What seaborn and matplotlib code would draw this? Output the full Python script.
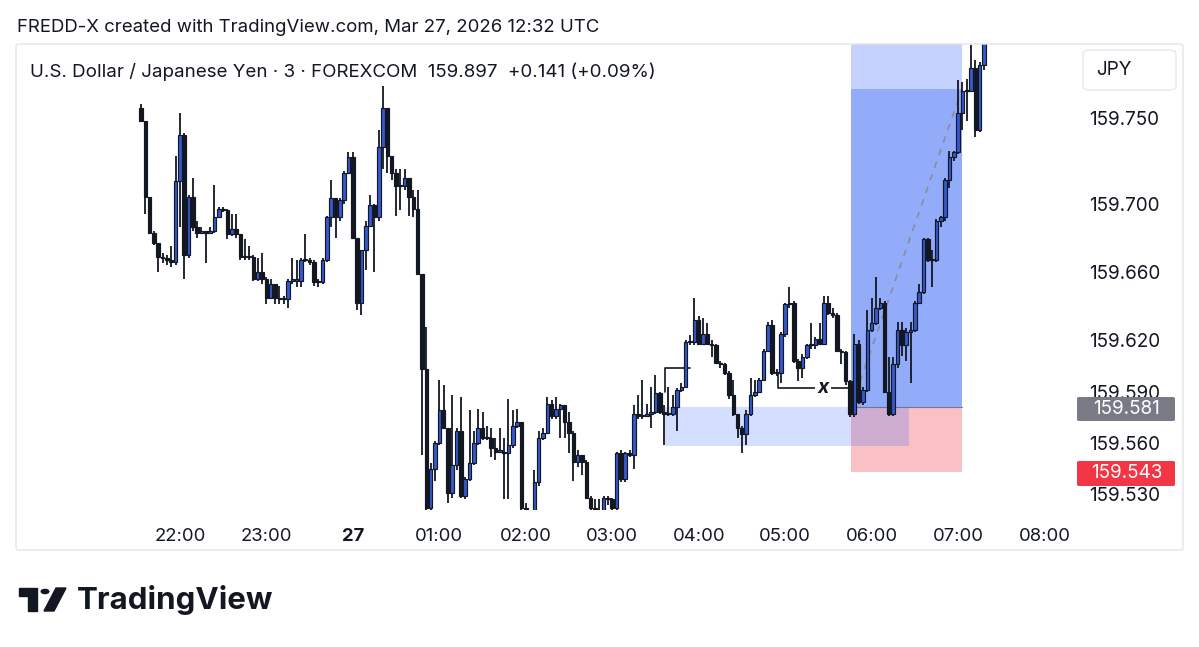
import numpy as np
import pandas as pd
import matplotlib
matplotlib.use("Agg")
import matplotlib.pyplot as plt
import seaborn as sns
from matplotlib.patches import Rectangle, FancyBboxPatch, Polygon, Circle

# USD/JPY 3分足 (21:33 〜 07:18)
first_open = 159.756
closes = [
    159.748, 159.704, 159.683, 159.677, 159.669, 159.668, 159.667, 159.666, 159.713, 159.740,
    159.670, 159.704, 159.686, 159.683, 159.684, 159.683, 159.684, 159.692, 159.697, 159.696,
    159.682, 159.685, 159.682, 159.669, 159.669, 159.669, 159.656, 159.660, 159.656, 159.645,
    159.653, 159.645, 159.644, 159.644, 159.655, 159.655, 159.655, 159.667, 159.667, 159.666,
    159.654, 159.654, 159.667, 159.692, 159.703, 159.692, 159.702, 159.718, 159.727, 159.680,
    159.642, 159.673, 159.687, 159.699, 159.692, 159.733, 159.756, 159.728, 159.718, 159.710,
    159.710, 159.715, 159.704, 159.697, 159.659, 159.603, 159.522, 159.545, 159.560, 159.579,
    159.569, 159.531, 159.547, 159.567, 159.529, 159.539, 159.548, 159.560, 159.569, 159.563,
    159.563, 159.557, 159.555, 159.555, 159.554, 159.559, 159.570, 159.572, 159.522, 159.514,
    159.517, 159.537, 159.563, 159.566, 159.583, 159.576, 159.580, 159.582, 159.572, 159.566,
    159.549, 159.553, 159.549, 159.528, 159.522, 159.517, 159.519, 159.528, 159.527, 159.522,
    159.554, 159.539, 159.554, 159.553, 159.577, 159.576, 159.576, 159.577, 159.578, 159.589,
    159.578, 159.577, 159.577, 159.581, 159.591, 159.593, 159.619, 159.619, 159.632, 159.618,
    159.624, 159.618, 159.617, 159.607, 159.606, 159.601, 159.588, 159.577, 159.569, 159.565,
    159.577, 159.588, 159.590, 159.597, 159.614, 159.629, 159.601, 159.601, 159.624, 159.641,
    159.642, 159.608, 159.604, 159.610, 159.617, 159.617, 159.621, 159.618, 159.642, 159.636,
    159.635, 159.614, 159.613, 159.596, 159.577, 159.618, 159.584, 159.591, 159.626, 159.630,
    159.639, 159.642, 159.590, 159.577, 159.606, 159.626, 159.617, 159.625, 159.626, 159.642,
    159.648, 159.679, 159.667, 159.667, 159.690, 159.692, 159.714, 159.727, 159.730, 159.753,
    159.766, 159.766, 159.779, 159.743, 159.781, 159.800,
]
highs = [
    159.758, 159.748, 159.704, 159.684, 159.677, 159.671, 159.670, 159.675, 159.728, 159.753,
    159.741, 159.705, 159.715, 159.690, 159.686, 159.684, 159.686, 159.711, 159.698, 159.698,
    159.697, 159.694, 159.694, 159.682, 159.679, 159.675, 159.670, 159.668, 159.671, 159.657,
    159.656, 159.653, 159.652, 159.646, 159.656, 159.668, 159.667, 159.668, 159.682, 159.668,
    159.667, 159.656, 159.668, 159.693, 159.714, 159.703, 159.703, 159.719, 159.730, 159.730,
    159.680, 159.673, 159.690, 159.705, 159.700, 159.743, 159.769, 159.756, 159.728, 159.720,
    159.720, 159.720, 159.715, 159.708, 159.708, 159.659, 159.628, 159.548, 159.561, 159.597,
    159.594, 159.569, 159.588, 159.569, 159.587, 159.540, 159.579, 159.567, 159.580, 159.578,
    159.570, 159.569, 159.563, 159.569, 159.563, 159.586, 159.579, 159.580, 159.572, 159.525,
    159.521, 159.544, 159.567, 159.569, 159.587, 159.585, 159.587, 159.583, 159.582, 159.578,
    159.567, 159.556, 159.553, 159.550, 159.529, 159.527, 159.527, 159.529, 159.529, 159.528,
    159.555, 159.556, 159.555, 159.556, 159.582, 159.588, 159.597, 159.583, 159.593, 159.600,
    159.590, 159.582, 159.593, 159.588, 159.592, 159.595, 159.620, 159.623, 159.645, 159.634,
    159.633, 159.630, 159.620, 159.618, 159.608, 159.607, 159.602, 159.597, 159.577, 159.570,
    159.579, 159.598, 159.597, 159.598, 159.615, 159.631, 159.632, 159.603, 159.625, 159.642,
    159.651, 159.643, 159.609, 159.612, 159.618, 159.630, 159.622, 159.630, 159.646, 159.646,
    159.639, 159.636, 159.615, 159.614, 159.597, 159.624, 159.620, 159.593, 159.638, 159.645,
    159.657, 159.645, 159.643, 159.610, 159.610, 159.631, 159.631, 159.627, 159.631, 159.643,
    159.653, 159.680, 159.680, 159.673, 159.691, 159.693, 159.715, 159.731, 159.731, 159.772,
    159.771, 159.773, 159.793, 159.784, 159.783, 159.805,
]
lows = [
    159.748, 159.694, 159.682, 159.676, 159.660, 159.665, 159.664, 159.663, 159.664, 159.686,
    159.656, 159.668, 159.684, 159.680, 159.682, 159.665, 159.682, 159.683, 159.692, 159.695,
    159.679, 159.681, 159.680, 159.667, 159.667, 159.667, 159.655, 159.655, 159.653, 159.641,
    159.644, 159.641, 159.641, 159.641, 159.639, 159.653, 159.651, 159.651, 159.666, 159.664,
    159.652, 159.651, 159.653, 159.666, 159.686, 159.680, 159.690, 159.700, 159.717, 159.679,
    159.638, 159.635, 159.661, 159.686, 159.660, 159.690, 159.720, 159.718, 159.714, 159.693,
    159.696, 159.708, 159.693, 159.692, 159.658, 159.553, 159.515, 159.513, 159.538, 159.559,
    159.568, 159.525, 159.528, 159.544, 159.528, 159.527, 159.538, 159.547, 159.559, 159.562,
    159.562, 159.552, 159.550, 159.554, 159.527, 159.527, 159.557, 159.569, 159.512, 159.508,
    159.508, 159.514, 159.535, 159.562, 159.565, 159.574, 159.574, 159.563, 159.563, 159.554,
    159.538, 159.546, 159.541, 159.527, 159.518, 159.511, 159.513, 159.517, 159.524, 159.518,
    159.519, 159.537, 159.537, 159.552, 159.545, 159.574, 159.574, 159.575, 159.569, 159.577,
    159.577, 159.559, 159.576, 159.576, 159.567, 159.590, 159.592, 159.617, 159.617, 159.617,
    159.617, 159.617, 159.610, 159.606, 159.604, 159.600, 159.586, 159.576, 159.563, 159.554,
    159.559, 159.576, 159.587, 159.589, 159.596, 159.613, 159.600, 159.599, 159.595, 159.622,
    159.639, 159.607, 159.596, 159.598, 159.609, 159.615, 159.615, 159.617, 159.617, 159.635,
    159.633, 159.613, 159.606, 159.594, 159.575, 159.575, 159.583, 159.582, 159.590, 159.625,
    159.629, 159.638, 159.589, 159.576, 159.576, 159.604, 159.611, 159.608, 159.595, 159.625,
    159.641, 159.647, 159.666, 159.651, 159.666, 159.686, 159.690, 159.709, 159.725, 159.729,
    159.743, 159.748, 159.765, 159.739, 159.742, 159.778,
]

# 時間軸ラベル
tick_times = ["2026-03-26 22:00", "2026-03-26 23:00", "2026-03-27 00:00", "2026-03-27 01:00",
              "2026-03-27 02:00", "2026-03-27 03:00", "2026-03-27 04:00", "2026-03-27 05:00",
              "2026-03-27 06:00", "2026-03-27 07:00", "2026-03-27 08:00"]
tick_labels = ["22:00", "23:00", "27", "01:00", "02:00", "03:00", "04:00",
               "05:00", "06:00", "07:00", "08:00"]
price_ticks = [159.750, 159.700, 159.660, 159.620, 159.590, 159.560, 159.530]

# ポジションとゾーン
entry_price = 159.581
stop_price = 159.543
target_price = 159.800
reached_price = 159.767
fvg_top = 159.581
fvg_bottom = 159.558

df = pd.DataFrame({"close": closes, "high": highs, "low": lows})
df["open"] = [first_open] + closes[:-1]
df["time"] = pd.date_range("2026-03-26 21:33", periods=len(df), freq="3min")
df["idx"] = np.arange(len(df))
t0 = df["time"].iloc[0]
tick_pos = [(pd.Timestamp(t) - t0) / pd.Timedelta("3min") for t in tick_times]

W, H = 1199, 647
sns.set_theme(style="white")
plt.rcParams["font.family"] = ["Inter", "DejaVu Sans"]

fig = plt.figure(figsize=(W / 100, H / 100), dpi=100)
fig.patch.set_facecolor("white")


def fx(x):
    return x / W


def fy(y):
    return 1 - y / H


ax = fig.add_axes([fx(16), fy(510), (1077 - 16) / W, (510 - 44) / H])
ax.set_facecolor("none")
ax.set_xlim(-28.9, 216.5)
ax.set_ylim(159.5208, 159.7933)
for s in ax.spines.values():
    s.set_visible(False)

# ロングポジション
pos_l, pos_r = 164.25, 189.9
ax.add_patch(Rectangle((pos_l, entry_price), pos_r - pos_l, target_price - entry_price,
                       facecolor="#c4d2fd", edgecolor="none", zorder=1))
ax.add_patch(Rectangle((pos_l, entry_price), pos_r - pos_l, reached_price - entry_price,
                       facecolor="#93acfa", edgecolor="none", zorder=1.1))
ax.add_patch(Rectangle((pos_l, stop_price), pos_r - pos_l, entry_price - stop_price,
                       facecolor="#f9c0c6", edgecolor="none", zorder=1))
ax.plot([pos_l, pos_r], [entry_price, entry_price], color="#787b86", lw=0.8, zorder=1.2)

# FVG ゾーン
ax.add_patch(Rectangle((121.2, fvg_bottom), 177.7 - 121.2, fvg_top - fvg_bottom,
                       facecolor="#2962ff", alpha=0.2, edgecolor="none", zorder=1.5))

# 接続線（点線）
sns.lineplot(x=[pos_l, pos_r], y=[entry_price, reached_price], ax=ax,
             color="#8a8d96", lw=1.2, linestyle=(0, (4, 4)), zorder=2)

# ブラケット
ax.plot([121.2, 121.2, 127], [159.590, 159.604, 159.604], color="#131722", lw=1.2, zorder=3)
ax.plot([147.4, 147.4, 164.3], [159.601, 159.592, 159.592], color="#131722", lw=1.2, zorder=3)
ax.text(157.8, 159.592, "x", fontsize=14, fontweight="bold", fontstyle="italic",
        ha="center", va="center", color="#131722", zorder=3.5,
        bbox=dict(facecolor="white", edgecolor="none", pad=1.5))

# ローソク足
up = df["close"] >= df["open"]
body_lo = np.minimum(df["open"], df["close"])
body_h = np.maximum(np.abs(df["close"] - df["open"]), 0.0006)
ax.vlines(df["idx"], df["low"], df["high"], color="#131722", lw=1.3, zorder=4)
ax.bar(df["idx"], body_h, bottom=body_lo, width=0.82,
       color=np.where(up, "#3459d1", "#131722"), edgecolor="#131722",
       linewidth=0.85, zorder=5)

# 軸
ax.set_xticks(tick_pos)
ax.set_xticklabels(tick_labels)
ax.tick_params(axis="x", length=0, pad=13, labelsize=13.3, labelcolor="#131722")
ax.get_xticklabels()[2].set_fontweight("bold")
ax.yaxis.tick_right()
ax.set_yticks(price_ticks)
ax.set_yticklabels([f"{p:.3f}" for p in price_ticks])
ax.tick_params(axis="y", length=0, pad=9, labelsize=13.6, labelcolor="#131722")
ax.grid(False)

# パネル枠
fig.add_artist(FancyBboxPatch((fx(16), fy(550)), (1183 - 16) / W, (550 - 44) / H,
                              boxstyle="round,pad=0,rounding_size=0.003",
                              transform=fig.transFigure, fill=False,
                              edgecolor="#e3e5ea", lw=1.0))

# 価格ラベル
fig.add_artist(FancyBboxPatch((fx(1077), fy(421)), 98 / W, 24 / H,
                              boxstyle="round,pad=0,rounding_size=0.002",
                              transform=fig.transFigure, facecolor="#787b86",
                              edgecolor="none", zorder=5))
fig.text(fx(1127), fy(409), f"{entry_price:.3f}", color="white", fontsize=13.6,
         ha="center", va="center", zorder=6)
fig.add_artist(FancyBboxPatch((fx(1077), fy(486)), 98 / W, 25 / H,
                              boxstyle="round,pad=0,rounding_size=0.002",
                              transform=fig.transFigure, facecolor="#f23645",
                              edgecolor="none", zorder=5))
fig.text(fx(1127), fy(473), f"{stop_price:.3f}", color="white", fontsize=13.6,
         ha="center", va="center", zorder=6)

# JPY ボックス
fig.add_artist(FancyBboxPatch((fx(1083), fy(90)), 93 / W, 40 / H,
                              boxstyle="round,pad=0,rounding_size=0.006",
                              transform=fig.transFigure, facecolor="white",
                              edgecolor="#e6e8ee", lw=1.0, zorder=5))
fig.text(fx(1096), fy(70), "JPY", fontsize=13.6, color="#131722", va="center", zorder=6)

# タイトル
fig.text(fx(17), fy(28), "FREDD-X created with TradingView.com, Mar 27, 2026 12:32 UTC",
         fontsize=13.4, color="#131722", va="center")
fig.text(fx(30), fy(72),
         "U.S. Dollar / Japanese Yen · 3 · FOREXCOM  159.897  +0.141 (+0.09%)",
         fontsize=13.5, color="#131722", va="center")

# TradingView ロゴ
logo = "#131722"
fig.add_artist(Polygon([(fx(19), fy(588)), (fx(37), fy(588)), (fx(37), fy(611)),
                        (fx(28), fy(611)), (fx(28), fy(596)), (fx(19), fy(596))],
                       closed=True, transform=fig.transFigure, color=logo))
fig.add_artist(Circle((fx(45), fy(591.5)), 3.8 / W, transform=fig.transFigure, color=logo))
fig.add_artist(Polygon([(fx(44), fy(611)), (fx(54), fy(611)), (fx(66), fy(588)),
                        (fx(56), fy(588))],
                       closed=True, transform=fig.transFigure, color=logo))
fig.text(fx(77), fy(600), "TradingView", fontsize=22.5, fontweight="bold",
         color=logo, va="center")

fig.savefig("out.png", dpi=100, facecolor="white")
